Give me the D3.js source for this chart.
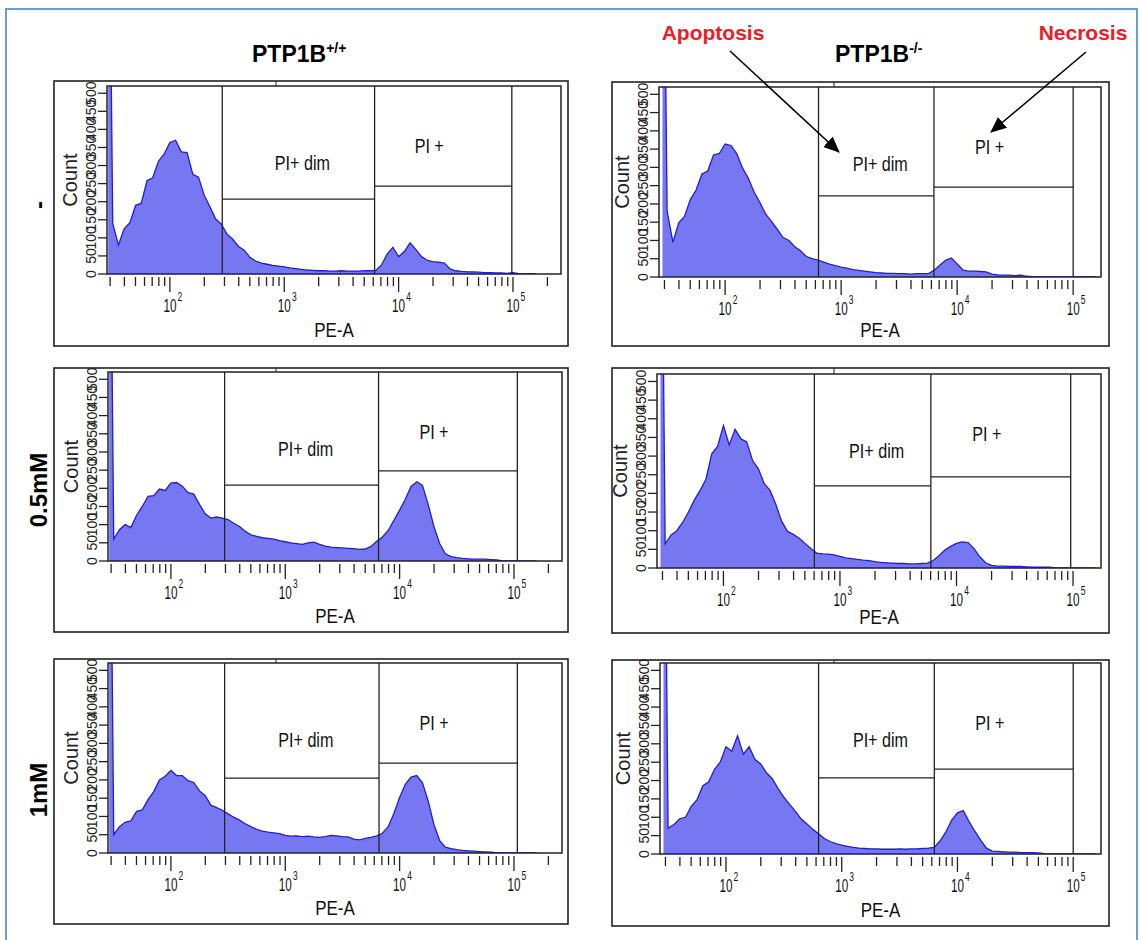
<!DOCTYPE html>
<html>
<head>
<meta charset="utf-8">
<script src="https://cdn.jsdelivr.net/npm/d3@7"></script>
<style>
  body { margin: 0; background: #fff; }
  svg { display: block; font-family: "Liberation Sans", Arial, sans-serif; }
</style>
</head>
<body>
<svg id="chart" width="1140" height="940"></svg>
<script>
// ---- DATA ----
// bin centres, log10(PE-A)
const binLog = [
  1.46, 1.50, 1.55, 1.60, 1.65, 1.70, 1.75, 1.80, 1.85, 1.90,
  1.95, 2.00, 2.05, 2.10, 2.15, 2.20, 2.25, 2.30, 2.35, 2.40,
  2.45, 2.50, 2.55, 2.60, 2.65, 2.70, 2.75, 2.80, 2.85, 2.90,
  2.95, 3.00, 3.05, 3.10, 3.15, 3.20, 3.25, 3.30, 3.35, 3.40,
  3.45, 3.50, 3.55, 3.60, 3.65, 3.70, 3.75, 3.80, 3.85, 3.90,
  3.95, 4.00, 4.05, 4.10, 4.15, 4.20, 4.25, 4.30, 4.35, 4.40,
  4.45, 4.50, 4.55, 4.60, 4.65, 4.70, 4.75, 4.80, 4.85, 4.90,
  4.95, 5.00, 5.05, 5.10, 5.15, 5.20
];

// PTP1B+/+, untreated
const countsWtCtrl = [
  1400, 140, 80, 125, 142, 190, 196, 258, 266, 312,
  332, 364, 370, 338, 336, 276, 268, 218, 186, 152,
  138, 110, 96, 76, 66, 46, 36, 30, 27, 24,
  22, 20, 17, 15, 13, 11, 10, 9, 9, 8,
  8, 9, 8, 8, 8, 9, 9, 10, 25, 55,
  74, 48, 62, 86, 68, 48, 38, 34, 33, 30,
  14, 9, 7, 6, 6, 5, 4, 4, 3, 3,
  2, 4, 1, 0, 1, 0
];
// PTP1B-/-, untreated
const countsKoCtrl = [
  1400, 180, 95, 148, 166, 212, 238, 282, 290, 334,
  338, 364, 360, 338, 298, 270, 232, 204, 172, 152,
  130, 108, 100, 83, 72, 56, 50, 46, 41, 35,
  31, 27, 24, 20, 18, 16, 14, 12, 11, 10,
  10, 9, 9, 8, 9, 9, 9, 18, 32, 46,
  52, 36, 19, 16, 16, 15, 14, 8, 6, 5,
  5, 4, 5, 2, 1, 0, 0, 0, 0, 0,
  0, 0, 0, 0, 0, 0
];
// PTP1B+/+, 0.5mM
const countsWt05 = [
  1400, 60, 86, 100, 92, 126, 150, 178, 180, 198,
  194, 214, 216, 206, 188, 184, 156, 130, 118, 121,
  118, 114, 104, 95, 82, 72, 68, 64, 62, 60,
  56, 53, 50, 48, 46, 50, 52, 46, 41, 38,
  37, 36, 35, 34, 32, 33, 40, 54, 66, 84,
  112, 140, 170, 205, 218, 208, 155, 95, 48, 20,
  12, 9, 7, 6, 5, 5, 5, 4, 3, 0,
  0, 0, 0, 0, 0, 0
];
// PTP1B-/-, 0.5mM
const countsKo05 = [
  1400, 65, 88, 100, 122, 150, 182, 208, 238, 306,
  326, 382, 330, 372, 346, 338, 288, 266, 226, 208,
  170, 125, 98, 90, 80, 66, 52, 40, 38, 37,
  35, 31, 27, 25, 23, 21, 20, 17, 15, 14,
  13, 12, 12, 11, 11, 12, 13, 20, 33, 48,
  58, 66, 70, 68, 52, 30, 14, 7, 5, 5,
  4, 4, 4, 3, 2, 2, 2, 2, 0, 0,
  0, 0, 0, 0, 0, 0
];
// PTP1B+/+, 1mM
const countsWt1 = [
  1400, 50, 72, 84, 88, 114, 118, 146, 168, 200,
  210, 226, 212, 212, 198, 193, 170, 157, 131, 124,
  117, 107, 98, 90, 80, 72, 65, 60, 57, 55,
  53, 48, 46, 47, 45, 46, 44, 43, 45, 48,
  47, 45, 44, 38, 36, 40, 43, 47, 54, 72,
  108, 152, 188, 208, 212, 192, 142, 78, 34, 16,
  12, 9, 7, 6, 5, 4, 3, 2, 0, 0,
  0, 0, 0, 0, 0, 0
];
// PTP1B-/-, 1mM
const countsKo1 = [
  1400, 70, 80, 96, 100, 130, 148, 186, 196, 230,
  250, 292, 280, 322, 272, 292, 258, 245, 221, 205,
  178, 155, 135, 116, 95, 82, 67, 55, 42, 34,
  28, 24, 21, 18, 16, 15, 14, 14, 13, 13,
  13, 14, 13, 14, 14, 15, 16, 18, 36, 60,
  92, 112, 118, 88, 62, 38, 16, 8, 7, 6,
  5, 5, 4, 4, 4, 3, 1, 0, 0, 0,
  0, 0, 0, 0, 0, 0
];

// gates per panel (PE-A values and count levels)
const gateDimStart = [287, 638, 295, 603, 295, 631];
const gateDimEnd   = [6166, 6310, 6546, 6026, 6607, 6310];
const gatePosEnd   = [97700, 100000, 107000, 95500, 107000, 100000];
const gateDimLevel = [207, 222, 209, 220, 205, 207];
const gatePosLevel = [243, 246, 248, 244, 246, 231];

const colTitles = ['PTP1B', 'PTP1B'];
const colSupers = ['+/+', '-/-'];
const rowLabels = ['-', '0.5mM', '1mM'];
const yTicks = [0, 50, 100, 150, 200, 250, 300, 350, 400, 450, 500];
const xMajor = [1e2, 1e3, 1e4, 1e5];
const xMinor = [30, 40, 50, 60, 70, 80, 90, 200, 300, 400, 500, 600, 700, 800, 900,
  2000, 3000, 4000, 5000, 6000, 7000, 8000, 9000,
  20000, 30000, 40000, 50000, 60000, 70000, 80000, 90000, 200000];
const xMajorExp = ['2', '3', '4', '5'];

const panelCounts = [countsWtCtrl, countsKoCtrl, countsWt05, countsKo05, countsWt1, countsKo1];

// ---- LAYOUT ----
// lmin/lmax = log10 range of the x axis shown in each panel
const panelBoxes = [
  { ox: 54,  oy: 81,  ow: 514, oh: 265, px: 107, py: 86,  pw: 454, ph: 188, lmin: 1.45, lmax: 5.42 },
  { ox: 612, oy: 82,  ow: 497, oh: 264, px: 659, py: 87,  pw: 442, ph: 190, lmin: 1.43, lmax: 5.24 },
  { ox: 54,  oy: 368, ow: 514, oh: 264, px: 108, py: 372, pw: 454, ph: 189, lmin: 1.45, lmax: 5.42 },
  { ox: 612, oy: 368, ow: 497, oh: 265, px: 657, py: 374, pw: 444, ph: 194, lmin: 1.43, lmax: 5.24 },
  { ox: 54,  oy: 659, ow: 514, oh: 265, px: 108, py: 663, pw: 454, ph: 190, lmin: 1.45, lmax: 5.42 },
  { ox: 612, oy: 660, ow: 497, oh: 266, px: 660, py: 663, pw: 441, ph: 191, lmin: 1.43, lmax: 5.24 }
];

const fillColor = '#7777f2';
const strokeColor = '#1d1ddc';

const svg = d3.select('#chart');

// outer blue frame
svg.append('rect')
  .attr('x', 6).attr('y', 9).attr('width', 1131).attr('height', 945)
  .attr('fill', 'none').attr('stroke', '#6f9bd4').attr('stroke-width', 2);

const defs = svg.append('defs');
defs.append('marker')
  .attr('id', 'arrow')
  .attr('markerUnits', 'userSpaceOnUse')
  .attr('markerWidth', 16).attr('markerHeight', 14)
  .attr('refX', 15).attr('refY', 7)
  .attr('orient', 'auto')
  .append('path')
  .attr('d', 'M0,0 L16,7 L0,14 Z')
  .attr('fill', '#000');

// helper for stretched text
function stretchText(parent, x, y, str, size, sx, sy, anchor) {
  return parent.append('text')
    .attr('transform', `translate(${x},${y}) scale(${sx},${sy})`)
    .attr('text-anchor', anchor || 'middle')
    .attr('font-size', size)
    .attr('fill', '#111')
    .text(str);
}

panelBoxes.forEach((b, i) => {
  const counts = panelCounts[i];
  const g = svg.append('g');

  const x = d3.scaleLog().domain([Math.pow(10, b.lmin), Math.pow(10, b.lmax)]).range([b.px, b.px + b.pw]);
  const y = d3.scaleLinear().domain([0, 520]).range([b.py + b.ph, b.py]);

  // outer frame
  g.append('rect')
    .attr('x', b.ox).attr('y', b.oy).attr('width', b.ow).attr('height', b.oh)
    .attr('fill', '#fff').attr('stroke', '#222').attr('stroke-width', 1.6);
  g.append('line')
    .attr('x1', b.ox + 222).attr('x2', b.ox + 222)
    .attr('y1', b.oy).attr('y2', b.py)
    .attr('stroke', '#222').attr('stroke-width', 1);

  // histogram
  const clipId = 'clip' + i;
  defs.append('clipPath').attr('id', clipId)
    .append('rect').attr('x', b.px).attr('y', b.py).attr('width', b.pw).attr('height', b.ph);

  const pts = binLog.map((l, k) => ({ v: Math.pow(10, l), c: counts[k] }));
  const area = d3.area()
    .x(d => x(d.v)).y0(y(0)).y1(d => y(d.c));
  const line = d3.line()
    .x(d => x(d.v)).y(d => y(d.c));

  const hist = g.append('g').attr('clip-path', `url(#${clipId})`);
  hist.append('path').datum(pts)
    .attr('d', area).attr('fill', fillColor);
  hist.append('path').datum(pts)
    .attr('d', line).attr('fill', 'none')
    .attr('stroke', strokeColor).attr('stroke-width', 1.3);

  // plot frame
  g.append('rect')
    .attr('x', b.px).attr('y', b.py).attr('width', b.pw).attr('height', b.ph)
    .attr('fill', 'none').attr('stroke', '#222').attr('stroke-width', 1.5);

  // gates
  const gx0 = x(gateDimStart[i]), gx1 = x(gateDimEnd[i]), gx2 = x(gatePosEnd[i]);
  const gateLines = [
    [gx0, b.py, gx0, y(0)],
    [gx1, b.py, gx1, y(0)],
    [gx2, b.py, gx2, y(0)],
    [gx0, y(gateDimLevel[i]), gx1, y(gateDimLevel[i])],
    [gx1, y(gatePosLevel[i]), gx2, y(gatePosLevel[i])]
  ];
  g.selectAll('.gate').data(gateLines).enter().append('line')
    .attr('x1', d => d[0]).attr('y1', d => d[1])
    .attr('x2', d => d[2]).attr('y2', d => d[3])
    .attr('stroke', '#222').attr('stroke-width', 1.3);

  stretchText(g, (gx0 + gx1) / 2 + 4, b.py + 84, 'PI+ dim', 17, 0.95, 1.2);
  stretchText(g, (gx1 + gx2) / 2 - 14, b.py + 67, 'PI +', 17, 0.95, 1.2);

  // x axis ticks
  const base = y(0);
  const inRange = v => v <= Math.pow(10, b.lmax);
  g.selectAll('.minor').data(xMinor.filter(inRange)).enter().append('line')
    .attr('x1', d => x(d)).attr('x2', d => x(d))
    .attr('y1', base + 3).attr('y2', base + 12)
    .attr('stroke', '#222').attr('stroke-width', 1.3);
  g.selectAll('.major').data(xMajor).enter().append('line')
    .attr('x1', d => x(d)).attr('x2', d => x(d))
    .attr('y1', base + 3).attr('y2', base + 18)
    .attr('stroke', '#222').attr('stroke-width', 1.3);
  xMajor.forEach((v, k) => {
    stretchText(g, x(v), base + 38, '10', 15, 0.78, 1.25);
    stretchText(g, x(v) + 10, base + 27, xMajorExp[k], 10, 0.85, 1.2);
  });
  stretchText(g, b.px + b.pw / 2, b.oy + b.oh - 9, 'PE-A', 17, 1, 1.2);

  // y axis ticks + overlapping labels
  g.selectAll('.ytick').data(yTicks).enter().append('line')
    .attr('x1', b.px - 9).attr('x2', b.px)
    .attr('y1', d => y(d)).attr('y2', d => y(d))
    .attr('stroke', '#222').attr('stroke-width', 1.3);
  g.selectAll('.ylab').data(yTicks).enter().append('text')
    .attr('transform', d => `translate(${b.px - 11},${y(d)}) rotate(-90)`)
    .attr('text-anchor', 'middle')
    .attr('font-size', 14)
    .attr('fill', '#222')
    .text(d => d);
  g.append('text')
    .attr('transform', `translate(${b.px - 30},${b.py + b.ph / 2}) rotate(-90)`)
    .attr('text-anchor', 'middle')
    .attr('font-size', 20)
    .attr('fill', '#222')
    .text('Count');
});

// column titles
const titleX = [252, 835];
colTitles.forEach((t, i) => {
  const tt = svg.append('text')
    .attr('x', titleX[i]).attr('y', 62)
    .attr('font-size', 23).attr('font-weight', 'bold').attr('fill', '#000');
  tt.append('tspan').text(t);
  tt.append('tspan').attr('dy', -9).attr('font-size', 14).text(colSupers[i]);
});

// row labels
const rowY = [205, 490, 790];
rowLabels.forEach((t, i) => {
  svg.append('text')
    .attr('transform', `translate(47,${rowY[i]}) rotate(-90)`)
    .attr('text-anchor', 'middle')
    .attr('font-size', 24).attr('font-weight', 'bold').attr('fill', '#000')
    .text(t);
});

// annotations
svg.append('text').attr('x', 713).attr('y', 40).attr('text-anchor', 'middle')
  .attr('font-size', 21).attr('font-weight', 'bold').attr('fill', '#ee1c24').text('Apoptosis');
svg.append('text').attr('x', 1083).attr('y', 40).attr('text-anchor', 'middle')
  .attr('font-size', 21).attr('font-weight', 'bold').attr('fill', '#ee1c24').text('Necrosis');
svg.append('line').attr('x1', 730).attr('y1', 51).attr('x2', 839).attr('y2', 152)
  .attr('stroke', '#000').attr('stroke-width', 1.6).attr('marker-end', 'url(#arrow)');
svg.append('line').attr('x1', 1086).attr('y1', 52).attr('x2', 991).attr('y2', 132)
  .attr('stroke', '#000').attr('stroke-width', 1.6).attr('marker-end', 'url(#arrow)');
</script>
</body>
</html>
